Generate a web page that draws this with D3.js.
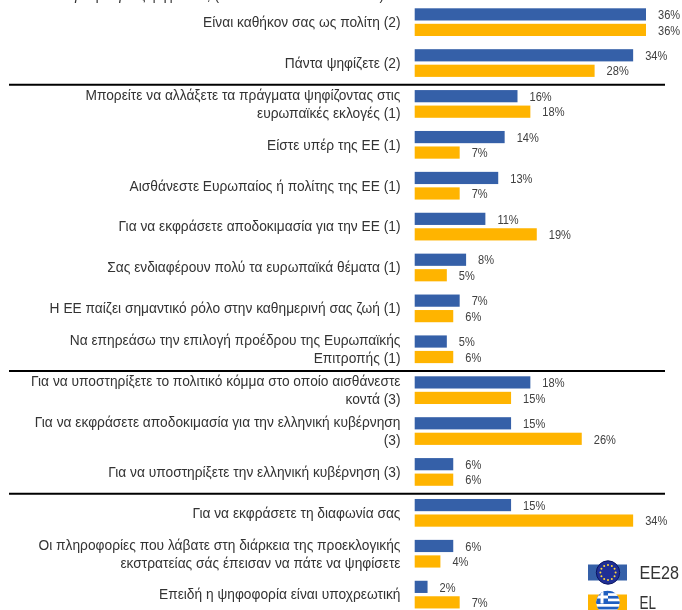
<!DOCTYPE html>
<html><head><meta charset="utf-8">
<script src="https://cdn.jsdelivr.net/npm/d3@7/dist/d3.min.js"></script>
<style>html,body{margin:0;padding:0;background:#fff;overflow:hidden}svg{display:block;filter:blur(0.35px)}</style></head>
<body><svg id="c" width="682" height="610"></svg>
<script>
const labels = [
 ["Είναι καθήκον σας ως πολίτη (2)"],
 ["Πάντα ψηφίζετε (2)"],
 ["Μπορείτε να αλλάξετε τα πράγματα ψηφίζοντας στις","ευρωπαϊκές εκλογές (1)"],
 ["Είστε υπέρ της ΕΕ (1)"],
 ["Αισθάνεστε Ευρωπαίος ή πολίτης της ΕΕ (1)"],
 ["Για να εκφράσετε αποδοκιμασία για την ΕΕ (1)"],
 ["Σας ενδιαφέρουν πολύ τα ευρωπαϊκά θέματα (1)"],
 ["Η ΕΕ παίζει σημαντικό ρόλο στην καθημερινή σας ζωή (1)"],
 ["Να επηρεάσω την επιλογή προέδρου της Ευρωπαϊκής","Επιτροπής (1)"],
 ["Για να υποστηρίξετε το πολιτικό κόμμα στο οποίο αισθάνεστε","κοντά (3)"],
 ["Για να εκφράσετε αποδοκιμασία για την ελληνική κυβέρνηση","(3)"],
 ["Για να υποστηρίξετε την ελληνική κυβέρνηση (3)"],
 ["Για να εκφράσετε τη διαφωνία σας"],
 ["Οι πληροφορίες που λάβατε στη διάρκεια της προεκλογικής","εκστρατείας σάς έπεισαν να πάτε να ψηφίσετε"],
 ["Επειδή η ψηφοφορία είναι υποχρεωτική"]
];
const ee28 = [36,34,16,14,13,11,8,7,5,18,15,6,15,6,2];
const el   = [36,28,18,7,7,19,5,6,6,15,26,6,34,4,7];
const separatorsAfter = [1,8,11];
const seriesNames = ["EE28","EL"];
const seriesColors = ["#3560a8","#ffb400"];
const topLine = "Για ποιο λόγο ή λόγους ψηφίσατε; (ΜΕΓΙΣΤΟ 4 ΑΠΑΝΤΗΣΕΙΣ)";

const svg = d3.select("#c");
const font = "'Liberation Sans', Arial, sans-serif";
const x = d3.scaleLinear().domain([0,36]).range([414.7,646]);
const step = 40.89;
const y = d3.scaleBand().domain(d3.range(labels.length)).range([8.3,8.3+step*labels.length]);
const barH = 12.2, gap = 15.5;

svg.append("text").attr("transform","translate(5,0) scale(.95,1)").attr("font-family",font).attr("font-size",14.5).attr("fill","#333").text(topLine);

const g = svg.selectAll("g.row").data(labels).join("g").attr("class","row");
[ee28,el].forEach((vals,k)=>{
  const off = k*gap;
  g.append("rect")
   .attr("x",x(0)).attr("y",(d,i)=>y(i)+off)
   .attr("width",(d,i)=>x(vals[i])-x(0)).attr("height",barH)
   .attr("fill",seriesColors[k]);
  g.append("text")
   .attr("transform",(d,i)=>`translate(${x(vals[i])+12},${y(i)+off+10.8}) scale(.84,1)`)
   .attr("font-family",font).attr("font-size",13.2).attr("fill","#404040")
   .text((d,i)=>vals[i]+"%");
});
g.each(function(d,i){
  const cy = y(i)+(barH+gap)/2;
  d.forEach((line,j)=>{
    d3.select(this).append("text").attr("text-anchor","end")
      .attr("transform",`translate(400.5,${cy+4.8+(j-(d.length-1)/2)*18}) scale(.95,1)`)
      .attr("font-family",font).attr("font-size",14.5).attr("fill","#333").text(line);
  });
});
separatorsAfter.forEach(i=>{
  const ly = y(i+1)-5.3;
  svg.append("line").attr("x1",9).attr("x2",665).attr("y1",ly).attr("y2",ly)
    .attr("stroke","#000").attr("stroke-width",2);
});
// legend
const legY = [572.5,602.5];
seriesNames.forEach((n,k)=>{
  svg.append("rect").attr("x",588).attr("y",legY[k]-8).attr("width",39).attr("height",16).attr("fill",seriesColors[k]);
  svg.append("text").attr("x",639.5).attr("y",legY[k]+6.5).attr("font-family",font).attr("font-size",18.5)
    .attr("fill","#333").attr("textLength",k===0?39.5:16.5).attr("lengthAdjust","spacingAndGlyphs").text(n);
});
const eu = svg.append("g").attr("transform",`translate(608,${legY[0]})`);
eu.append("circle").attr("r",11.7).attr("fill","#1f2f96");
eu.append("circle").attr("r",11.7).attr("fill","none").attr("stroke","#0c1660").attr("stroke-width",1);
d3.range(12).forEach(i=>{
  const a = i/12*2*Math.PI;
  eu.append("circle").attr("cx",7.6*Math.cos(a)).attr("cy",7.6*Math.sin(a)).attr("r",1).attr("fill","#ffd83a");
});
const defs = svg.append("defs");
defs.append("clipPath").attr("id","gr").append("circle").attr("r",11.7);
const gr = svg.append("g").attr("transform",`translate(608,${legY[1]})`).attr("clip-path","url(#gr)");
gr.append("rect").attr("x",-12).attr("y",-12).attr("width",24).attr("height",24).attr("fill","#fff");
d3.range(5).forEach(i=>gr.append("rect").attr("x",-12).attr("y",-12+i*5.4).attr("width",24).attr("height",2.7).attr("fill","#1f5fc0"));
gr.append("rect").attr("x",-12).attr("y",-12).attr("width",12).attr("height",13).attr("fill","#1f5fc0");
gr.append("rect").attr("x",-7.5).attr("y",-12).attr("width",3).attr("height",13).attr("fill","#fff");
gr.append("rect").attr("x",-12).attr("y",-7).attr("width",12).attr("height",3).attr("fill","#fff");
</script></body></html>
